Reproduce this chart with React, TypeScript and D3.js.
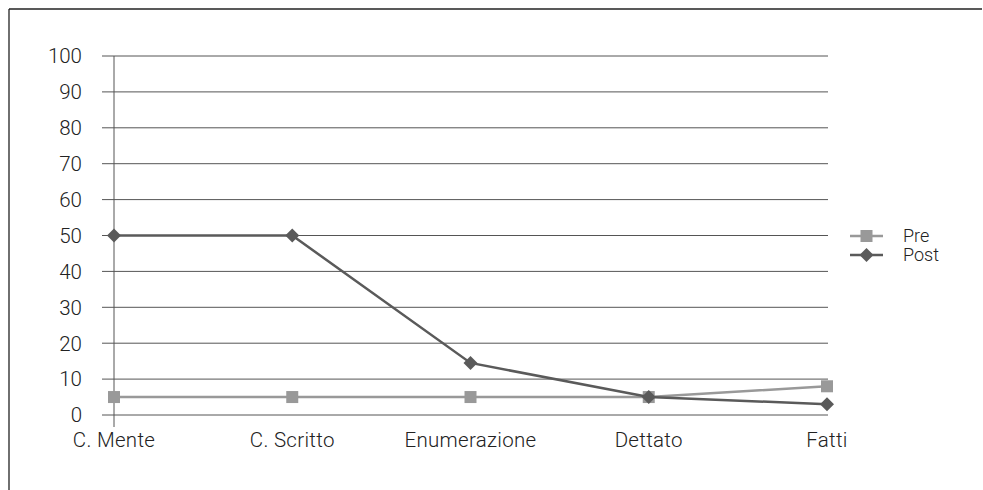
import React from "react";
import * as d3 from "d3";

const categories = ["C. Mente", "C. Scritto", "Enumerazione", "Dettato", "Fatti"];
const preValues = [5, 5, 5, 5, 8];
const postValues = [50, 50, 14.5, 5, 3];
const yTicks = [0, 10, 20, 30, 40, 50, 60, 70, 80, 90, 100];
const seriesNames = ["Pre", "Post"];

const W = 983;
const H = 490;

export default function App() {
  const x = d3.scalePoint<string>().domain(categories).range([114, 827]);
  const y = d3.scaleLinear().domain([0, 100]).range([415, 56]);
  const line = d3
    .line<number>()
    .x((_, i) => x(categories[i]) as number)
    .y((d) => y(d));
  const preColor = "#999999";
  const postColor = "#5a5a5a";
  const font = "Roboto, 'Noto Sans', sans-serif";
  const diamond = (cx: number, cy: number, r: number) =>
    `M${cx},${cy - r}L${cx + r},${cy}L${cx},${cy + r}L${cx - r},${cy}Z`;

  return (
    <svg
      width={W}
      height={H}
      style={{ position: "absolute", left: 0, top: 0, background: "#fff" }}
      fontFamily={font}
      fontWeight={300}
    >
      {/* outer border */}
      <line x1={9} x2={982} y1={9} y2={9} stroke="#222" strokeWidth={1.3} />
      <line x1={9} x2={9} y1={9} y2={490} stroke="#222" strokeWidth={1.3} />

      {/* gridlines */}
      {yTicks.map((t) => (
        <g key={t}>
          <line x1={102} x2={828} y1={y(t)} y2={y(t)} stroke="#555" strokeWidth={1} />
          <text
            x={82}
            y={y(t)}
            dy="0.36em"
            textAnchor="end"
            fontSize={20.5}
            fill="#222"
          >
            {t}
          </text>
        </g>
      ))}
      {/* y axis */}
      <line x1={114} x2={114} y1={56} y2={427} stroke="#555" strokeWidth={1} />

      {/* x labels */}
      {categories.map((c) => (
        <text
          key={c}
          x={x(c) as number}
          y={447}
          textAnchor="middle"
          fontSize={20.5}
          letterSpacing={0.3}
          fill="#222"
        >
          {c}
        </text>
      ))}

      {/* Pre series */}
      <path d={line(preValues) || ""} fill="none" stroke={preColor} strokeWidth={2.5} />
      {preValues.map((v, i) => (
        <rect
          key={"pre" + i}
          x={(x(categories[i]) as number) - 6}
          y={y(v) - 6}
          width={12}
          height={12}
          fill={preColor}
        />
      ))}

      {/* Post series */}
      <path d={line(postValues) || ""} fill="none" stroke={postColor} strokeWidth={2.5} />
      {postValues.map((v, i) => (
        <path
          key={"post" + i}
          d={diamond(x(categories[i]) as number, y(v), 7)}
          fill={postColor}
        />
      ))}

      {/* legend */}
      <g>
        <line x1={850} x2={883} y1={236} y2={236} stroke={preColor} strokeWidth={2.5} />
        <rect x={860.5} y={230} width={12} height={12} fill={preColor} />
        <text x={903} y={236} dy="0.36em" fontSize={18} fill="#222">
          {seriesNames[0]}
        </text>
        <line x1={850} x2={883} y1={255} y2={255} stroke={postColor} strokeWidth={2.5} />
        <path d={diamond(866.5, 255, 7)} fill={postColor} />
        <text x={903} y={255} dy="0.36em" fontSize={18} fill="#222">
          {seriesNames[1]}
        </text>
      </g>
    </svg>
  );
}
